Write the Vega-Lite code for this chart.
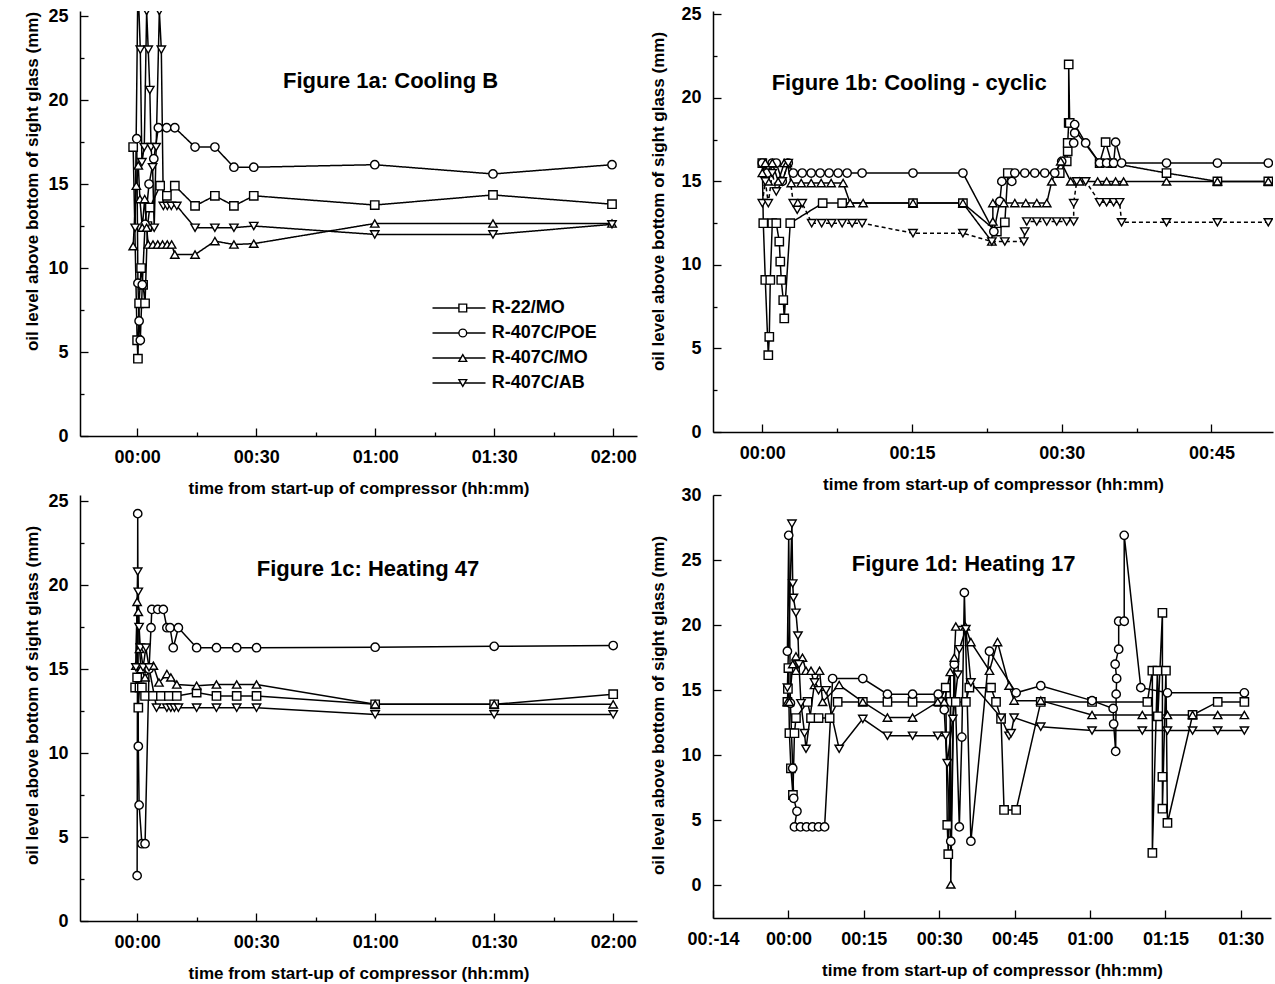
{
"$schema": "https://vega.github.io/schema/vega-lite/v6.json",
"background": "white",
"padding": {"left": 23, "top": 5, "right": 2, "bottom": 2},
"bounds": "flush",
"columns": 2,
"spacing": {"row": 59, "column": 76},
"config": {
  "font": "Liberation Sans",
  "view": {"stroke": null},
  "axis": {"labelFont": "Liberation Sans", "labelFontSize": 18, "labelFontWeight": "bold", "labelColor": "black",
           "titleFont": "Liberation Sans", "titleFontSize": 17, "titleFontWeight": "bold", "titleColor": "black",
           "domainColor": "black", "domainWidth": 1.5, "tickColor": "black", "tickWidth": 1.3, "grid": false}
},
"datasets": {"d": [
{"p":"a","s":"R-22/MO","t":-1.0,"v":17.2},{"p":"a","s":"R-22/MO","t":0.0,"v":5.7},{"p":"a","s":"R-22/MO","t":0.2,"v":4.6},{"p":"a","s":"R-22/MO","t":0.5,"v":7.9},{"p":"a","s":"R-22/MO","t":1.0,"v":10.0},{"p":"a","s":"R-22/MO","t":1.5,"v":9.0},{"p":"a","s":"R-22/MO","t":2.0,"v":7.9},{"p":"a","s":"R-22/MO","t":2.6,"v":12.5},{"p":"a","s":"R-22/MO","t":3.2,"v":13.6},{"p":"a","s":"R-22/MO","t":5.8,"v":14.9},{"p":"a","s":"R-22/MO","t":7.5,"v":14.3},{"p":"a","s":"R-22/MO","t":9.5,"v":14.9},{"p":"a","s":"R-22/MO","t":14.6,"v":13.7},{"p":"a","s":"R-22/MO","t":19.6,"v":14.3},{"p":"a","s":"R-22/MO","t":24.4,"v":13.7},{"p":"a","s":"R-22/MO","t":29.4,"v":14.3},{"p":"a","s":"R-22/MO","t":59.9,"v":13.75},{"p":"a","s":"R-22/MO","t":89.7,"v":14.35},{"p":"a","s":"R-22/MO","t":119.7,"v":13.8},
{"p":"a","s":"R-407C/POE","t":-0.1,"v":17.7},{"p":"a","s":"R-407C/POE","t":0.2,"v":9.1},{"p":"a","s":"R-407C/POE","t":0.5,"v":6.85},{"p":"a","s":"R-407C/POE","t":0.8,"v":5.7},{"p":"a","s":"R-407C/POE","t":1.3,"v":9.0},{"p":"a","s":"R-407C/POE","t":2.0,"v":12.6},{"p":"a","s":"R-407C/POE","t":3.0,"v":15.0},{"p":"a","s":"R-407C/POE","t":4.2,"v":16.5},{"p":"a","s":"R-407C/POE","t":5.35,"v":18.35},{"p":"a","s":"R-407C/POE","t":7.45,"v":18.35},{"p":"a","s":"R-407C/POE","t":9.5,"v":18.35},{"p":"a","s":"R-407C/POE","t":14.6,"v":17.2},{"p":"a","s":"R-407C/POE","t":19.6,"v":17.2},{"p":"a","s":"R-407C/POE","t":24.4,"v":16.0},{"p":"a","s":"R-407C/POE","t":29.4,"v":16.0},{"p":"a","s":"R-407C/POE","t":59.9,"v":16.15},{"p":"a","s":"R-407C/POE","t":89.7,"v":15.6},{"p":"a","s":"R-407C/POE","t":119.7,"v":16.15},
{"p":"a","s":"R-407C/MO","t":-1.0,"v":11.3},{"p":"a","s":"R-407C/MO","t":-0.2,"v":14.9},{"p":"a","s":"R-407C/MO","t":0.3,"v":16.1},{"p":"a","s":"R-407C/MO","t":0.7,"v":14.1},{"p":"a","s":"R-407C/MO","t":1.3,"v":12.4},{"p":"a","s":"R-407C/MO","t":1.9,"v":14.1},{"p":"a","s":"R-407C/MO","t":2.4,"v":12.4},{"p":"a","s":"R-407C/MO","t":2.8,"v":11.4},{"p":"a","s":"R-407C/MO","t":4.0,"v":11.4},{"p":"a","s":"R-407C/MO","t":5.2,"v":11.4},{"p":"a","s":"R-407C/MO","t":6.4,"v":11.4},{"p":"a","s":"R-407C/MO","t":7.6,"v":11.4},{"p":"a","s":"R-407C/MO","t":8.7,"v":11.4},{"p":"a","s":"R-407C/MO","t":9.5,"v":10.8},{"p":"a","s":"R-407C/MO","t":14.6,"v":10.8},{"p":"a","s":"R-407C/MO","t":19.6,"v":11.6},{"p":"a","s":"R-407C/MO","t":24.4,"v":11.4},{"p":"a","s":"R-407C/MO","t":29.4,"v":11.45},{"p":"a","s":"R-407C/MO","t":59.9,"v":12.65},{"p":"a","s":"R-407C/MO","t":89.7,"v":12.65},{"p":"a","s":"R-407C/MO","t":119.7,"v":12.65},
{"p":"a","s":"R-407C/AB","t":-0.5,"v":12.4},{"p":"a","s":"R-407C/AB","t":0.2,"v":27.0},{"p":"a","s":"R-407C/AB","t":0.8,"v":23.0},{"p":"a","s":"R-407C/AB","t":1.2,"v":16.3},{"p":"a","s":"R-407C/AB","t":1.8,"v":17.2},{"p":"a","s":"R-407C/AB","t":2.4,"v":25.3},{"p":"a","s":"R-407C/AB","t":2.8,"v":23.0},{"p":"a","s":"R-407C/AB","t":3.2,"v":20.6},{"p":"a","s":"R-407C/AB","t":3.5,"v":17.2},{"p":"a","s":"R-407C/AB","t":3.9,"v":16.0},{"p":"a","s":"R-407C/AB","t":4.3,"v":12.4},{"p":"a","s":"R-407C/AB","t":4.8,"v":17.2},{"p":"a","s":"R-407C/AB","t":5.6,"v":25.3},{"p":"a","s":"R-407C/AB","t":6.1,"v":23.0},{"p":"a","s":"R-407C/AB","t":6.6,"v":13.7},{"p":"a","s":"R-407C/AB","t":7.6,"v":13.7},{"p":"a","s":"R-407C/AB","t":8.6,"v":13.7},{"p":"a","s":"R-407C/AB","t":10.0,"v":13.7},{"p":"a","s":"R-407C/AB","t":14.6,"v":12.4},{"p":"a","s":"R-407C/AB","t":19.6,"v":12.4},{"p":"a","s":"R-407C/AB","t":24.4,"v":12.4},{"p":"a","s":"R-407C/AB","t":29.4,"v":12.5},{"p":"a","s":"R-407C/AB","t":59.9,"v":12.0},{"p":"a","s":"R-407C/AB","t":89.7,"v":12.0},{"p":"a","s":"R-407C/AB","t":119.7,"v":12.6},

{"p":"b","s":"R-22/MO","t":0,"v":16.1},{"p":"b","s":"R-22/MO","t":0.1,"v":12.5},{"p":"b","s":"R-22/MO","t":0.3,"v":9.1},{"p":"b","s":"R-22/MO","t":0.6,"v":4.6},{"p":"b","s":"R-22/MO","t":0.7,"v":5.7},{"p":"b","s":"R-22/MO","t":0.8,"v":9.1},{"p":"b","s":"R-22/MO","t":1.0,"v":12.5},{"p":"b","s":"R-22/MO","t":1.4,"v":12.5},{"p":"b","s":"R-22/MO","t":1.7,"v":11.4},{"p":"b","s":"R-22/MO","t":1.8,"v":10.2},{"p":"b","s":"R-22/MO","t":1.9,"v":9.1},{"p":"b","s":"R-22/MO","t":2.1,"v":7.9},{"p":"b","s":"R-22/MO","t":2.2,"v":6.8},{"p":"b","s":"R-22/MO","t":2.8,"v":12.5},{"p":"b","s":"R-22/MO","t":6.05,"v":13.7},{"p":"b","s":"R-22/MO","t":8.0,"v":13.7},{"p":"b","s":"R-22/MO","t":15.1,"v":13.7},{"p":"b","s":"R-22/MO","t":20.1,"v":13.7},{"p":"b","s":"R-22/MO","t":23.5,"v":12.0},{"p":"b","s":"R-22/MO","t":24.3,"v":12.55},{"p":"b","s":"R-22/MO","t":24.6,"v":15.5},{"p":"b","s":"R-22/MO","t":29.8,"v":15.5},{"p":"b","s":"R-22/MO","t":30.5,"v":16.2},{"p":"b","s":"R-22/MO","t":30.6,"v":16.8},{"p":"b","s":"R-22/MO","t":30.6,"v":17.3},{"p":"b","s":"R-22/MO","t":30.7,"v":18.5},{"p":"b","s":"R-22/MO","t":30.7,"v":22.0},{"p":"b","s":"R-22/MO","t":30.8,"v":18.5},{"p":"b","s":"R-22/MO","t":33.8,"v":16.1},{"p":"b","s":"R-22/MO","t":34.4,"v":17.35},{"p":"b","s":"R-22/MO","t":35.0,"v":16.1},{"p":"b","s":"R-22/MO","t":40.5,"v":15.5},{"p":"b","s":"R-22/MO","t":45.6,"v":15.0},{"p":"b","s":"R-22/MO","t":50.7,"v":15.0},
{"p":"b","s":"R-407C/POE","t":0,"v":16.1},{"p":"b","s":"R-407C/POE","t":0.5,"v":15.5},{"p":"b","s":"R-407C/POE","t":1.0,"v":16.1},{"p":"b","s":"R-407C/POE","t":1.4,"v":16.1},{"p":"b","s":"R-407C/POE","t":2.0,"v":15.0},{"p":"b","s":"R-407C/POE","t":2.6,"v":16.1},{"p":"b","s":"R-407C/POE","t":3.1,"v":15.5},{"p":"b","s":"R-407C/POE","t":4.0,"v":15.5},{"p":"b","s":"R-407C/POE","t":4.9,"v":15.5},{"p":"b","s":"R-407C/POE","t":5.8,"v":15.5},{"p":"b","s":"R-407C/POE","t":6.7,"v":15.5},{"p":"b","s":"R-407C/POE","t":7.6,"v":15.5},{"p":"b","s":"R-407C/POE","t":8.5,"v":15.5},{"p":"b","s":"R-407C/POE","t":10.0,"v":15.5},{"p":"b","s":"R-407C/POE","t":15.1,"v":15.5},{"p":"b","s":"R-407C/POE","t":20.1,"v":15.5},{"p":"b","s":"R-407C/POE","t":23.2,"v":12.0},{"p":"b","s":"R-407C/POE","t":23.8,"v":13.8},{"p":"b","s":"R-407C/POE","t":24.0,"v":15.0},{"p":"b","s":"R-407C/POE","t":25.0,"v":15.0},{"p":"b","s":"R-407C/POE","t":25.3,"v":15.5},{"p":"b","s":"R-407C/POE","t":26.3,"v":15.5},{"p":"b","s":"R-407C/POE","t":27.3,"v":15.5},{"p":"b","s":"R-407C/POE","t":28.3,"v":15.5},{"p":"b","s":"R-407C/POE","t":29.3,"v":15.5},{"p":"b","s":"R-407C/POE","t":30.0,"v":16.2},{"p":"b","s":"R-407C/POE","t":31.2,"v":17.3},{"p":"b","s":"R-407C/POE","t":31.3,"v":17.9},{"p":"b","s":"R-407C/POE","t":31.3,"v":18.4},{"p":"b","s":"R-407C/POE","t":32.4,"v":17.3},{"p":"b","s":"R-407C/POE","t":33.8,"v":16.1},{"p":"b","s":"R-407C/POE","t":34.5,"v":16.1},{"p":"b","s":"R-407C/POE","t":35.2,"v":16.1},{"p":"b","s":"R-407C/POE","t":35.4,"v":17.35},{"p":"b","s":"R-407C/POE","t":36.0,"v":16.1},{"p":"b","s":"R-407C/POE","t":40.5,"v":16.1},{"p":"b","s":"R-407C/POE","t":45.6,"v":16.1},{"p":"b","s":"R-407C/POE","t":50.7,"v":16.1},
{"p":"b","s":"R-407C/MO","t":0,"v":15.5},{"p":"b","s":"R-407C/MO","t":0.3,"v":16.1},{"p":"b","s":"R-407C/MO","t":0.6,"v":15.0},{"p":"b","s":"R-407C/MO","t":1.0,"v":16.1},{"p":"b","s":"R-407C/MO","t":1.6,"v":15.0},{"p":"b","s":"R-407C/MO","t":2.2,"v":16.1},{"p":"b","s":"R-407C/MO","t":2.5,"v":16.1},{"p":"b","s":"R-407C/MO","t":2.9,"v":14.9},{"p":"b","s":"R-407C/MO","t":3.9,"v":14.9},{"p":"b","s":"R-407C/MO","t":4.9,"v":14.9},{"p":"b","s":"R-407C/MO","t":5.9,"v":14.9},{"p":"b","s":"R-407C/MO","t":6.9,"v":14.9},{"p":"b","s":"R-407C/MO","t":8.1,"v":14.9},{"p":"b","s":"R-407C/MO","t":8.8,"v":13.7},{"p":"b","s":"R-407C/MO","t":10.1,"v":13.7},{"p":"b","s":"R-407C/MO","t":15.1,"v":13.7},{"p":"b","s":"R-407C/MO","t":20.1,"v":13.7},{"p":"b","s":"R-407C/MO","t":23.0,"v":11.4},{"p":"b","s":"R-407C/MO","t":23.1,"v":12.6},{"p":"b","s":"R-407C/MO","t":23.1,"v":13.7},{"p":"b","s":"R-407C/MO","t":24.2,"v":13.7},{"p":"b","s":"R-407C/MO","t":25.3,"v":13.7},{"p":"b","s":"R-407C/MO","t":26.4,"v":13.7},{"p":"b","s":"R-407C/MO","t":27.5,"v":13.7},{"p":"b","s":"R-407C/MO","t":28.5,"v":13.7},{"p":"b","s":"R-407C/MO","t":29.0,"v":15.0},{"p":"b","s":"R-407C/MO","t":29.9,"v":16.2},{"p":"b","s":"R-407C/MO","t":30.9,"v":15.0},{"p":"b","s":"R-407C/MO","t":31.8,"v":15.0},{"p":"b","s":"R-407C/MO","t":33.6,"v":15.0},{"p":"b","s":"R-407C/MO","t":34.5,"v":15.0},{"p":"b","s":"R-407C/MO","t":35.4,"v":15.0},{"p":"b","s":"R-407C/MO","t":36.2,"v":15.0},{"p":"b","s":"R-407C/MO","t":40.5,"v":15.0},{"p":"b","s":"R-407C/MO","t":45.6,"v":15.0},{"p":"b","s":"R-407C/MO","t":50.7,"v":15.0},
{"p":"b","s":"R-407C/AB","t":0,"v":13.7},{"p":"b","s":"R-407C/AB","t":0.3,"v":15.0},{"p":"b","s":"R-407C/AB","t":0.6,"v":13.7},{"p":"b","s":"R-407C/AB","t":1.0,"v":15.5},{"p":"b","s":"R-407C/AB","t":1.4,"v":14.4},{"p":"b","s":"R-407C/AB","t":2.0,"v":15.0},{"p":"b","s":"R-407C/AB","t":2.6,"v":16.1},{"p":"b","s":"R-407C/AB","t":3.1,"v":13.7},{"p":"b","s":"R-407C/AB","t":3.5,"v":13.3},{"p":"b","s":"R-407C/AB","t":4.0,"v":13.7},{"p":"b","s":"R-407C/AB","t":4.95,"v":12.5},{"p":"b","s":"R-407C/AB","t":5.95,"v":12.5},{"p":"b","s":"R-407C/AB","t":6.95,"v":12.5},{"p":"b","s":"R-407C/AB","t":8.0,"v":12.5},{"p":"b","s":"R-407C/AB","t":9.0,"v":12.5},{"p":"b","s":"R-407C/AB","t":10.0,"v":12.5},{"p":"b","s":"R-407C/AB","t":15.1,"v":11.9},{"p":"b","s":"R-407C/AB","t":20.1,"v":11.9},{"p":"b","s":"R-407C/AB","t":23.0,"v":11.4},{"p":"b","s":"R-407C/AB","t":24.3,"v":11.4},{"p":"b","s":"R-407C/AB","t":26.2,"v":11.4},{"p":"b","s":"R-407C/AB","t":26.3,"v":12.0},{"p":"b","s":"R-407C/AB","t":26.5,"v":12.6},{"p":"b","s":"R-407C/AB","t":27.5,"v":12.6},{"p":"b","s":"R-407C/AB","t":28.5,"v":12.6},{"p":"b","s":"R-407C/AB","t":29.5,"v":12.6},{"p":"b","s":"R-407C/AB","t":30.5,"v":12.6},{"p":"b","s":"R-407C/AB","t":31.2,"v":12.6},{"p":"b","s":"R-407C/AB","t":31.2,"v":13.7},{"p":"b","s":"R-407C/AB","t":31.5,"v":15.0},{"p":"b","s":"R-407C/AB","t":32.4,"v":15.0},{"p":"b","s":"R-407C/AB","t":33.8,"v":13.75},{"p":"b","s":"R-407C/AB","t":34.5,"v":13.75},{"p":"b","s":"R-407C/AB","t":35.2,"v":13.75},{"p":"b","s":"R-407C/AB","t":35.8,"v":13.75},{"p":"b","s":"R-407C/AB","t":36.0,"v":12.55},{"p":"b","s":"R-407C/AB","t":40.5,"v":12.55},{"p":"b","s":"R-407C/AB","t":45.6,"v":12.55},{"p":"b","s":"R-407C/AB","t":50.7,"v":12.55},

{"p":"c","s":"R-22/MO","t":-0.5,"v":13.9},{"p":"c","s":"R-22/MO","t":0,"v":14.5},{"p":"c","s":"R-22/MO","t":0.3,"v":12.7},{"p":"c","s":"R-22/MO","t":0.6,"v":13.9},{"p":"c","s":"R-22/MO","t":1.2,"v":13.9},{"p":"c","s":"R-22/MO","t":2,"v":13.4},{"p":"c","s":"R-22/MO","t":4,"v":13.4},{"p":"c","s":"R-22/MO","t":6,"v":13.4},{"p":"c","s":"R-22/MO","t":8,"v":13.4},{"p":"c","s":"R-22/MO","t":10,"v":13.4},{"p":"c","s":"R-22/MO","t":15,"v":13.6},{"p":"c","s":"R-22/MO","t":20,"v":13.4},{"p":"c","s":"R-22/MO","t":25.1,"v":13.4},{"p":"c","s":"R-22/MO","t":30.1,"v":13.4},{"p":"c","s":"R-22/MO","t":60,"v":12.9},{"p":"c","s":"R-22/MO","t":90,"v":12.9},{"p":"c","s":"R-22/MO","t":120,"v":13.5},
{"p":"c","s":"R-407C/POE","t":0,"v":2.7},{"p":"c","s":"R-407C/POE","t":0.15,"v":24.25},{"p":"c","s":"R-407C/POE","t":0.3,"v":10.4},{"p":"c","s":"R-407C/POE","t":0.5,"v":6.9},{"p":"c","s":"R-407C/POE","t":1.2,"v":4.6},{"p":"c","s":"R-407C/POE","t":2.0,"v":4.6},{"p":"c","s":"R-407C/POE","t":3.0,"v":15.0},{"p":"c","s":"R-407C/POE","t":3.5,"v":17.46},{"p":"c","s":"R-407C/POE","t":3.7,"v":18.55},{"p":"c","s":"R-407C/POE","t":5.2,"v":18.55},{"p":"c","s":"R-407C/POE","t":6.6,"v":18.55},{"p":"c","s":"R-407C/POE","t":7.5,"v":17.46},{"p":"c","s":"R-407C/POE","t":8.3,"v":17.46},{"p":"c","s":"R-407C/POE","t":9.1,"v":16.27},{"p":"c","s":"R-407C/POE","t":10.4,"v":17.46},{"p":"c","s":"R-407C/POE","t":15,"v":16.27},{"p":"c","s":"R-407C/POE","t":20,"v":16.27},{"p":"c","s":"R-407C/POE","t":25.1,"v":16.27},{"p":"c","s":"R-407C/POE","t":30.1,"v":16.27},{"p":"c","s":"R-407C/POE","t":60,"v":16.3},{"p":"c","s":"R-407C/POE","t":90,"v":16.35},{"p":"c","s":"R-407C/POE","t":120,"v":16.4},
{"p":"c","s":"R-407C/MO","t":-0.3,"v":15.2},{"p":"c","s":"R-407C/MO","t":0,"v":19.0},{"p":"c","s":"R-407C/MO","t":0.3,"v":18.4},{"p":"c","s":"R-407C/MO","t":0.6,"v":16.2},{"p":"c","s":"R-407C/MO","t":1.0,"v":15.0},{"p":"c","s":"R-407C/MO","t":2,"v":14.5},{"p":"c","s":"R-407C/MO","t":4.1,"v":15.2},{"p":"c","s":"R-407C/MO","t":5.5,"v":14.2},{"p":"c","s":"R-407C/MO","t":7.5,"v":14.7},{"p":"c","s":"R-407C/MO","t":8.5,"v":14.5},{"p":"c","s":"R-407C/MO","t":10,"v":14.08},{"p":"c","s":"R-407C/MO","t":15,"v":14.0},{"p":"c","s":"R-407C/MO","t":20,"v":14.08},{"p":"c","s":"R-407C/MO","t":25.1,"v":14.08},{"p":"c","s":"R-407C/MO","t":30.1,"v":14.08},{"p":"c","s":"R-407C/MO","t":60,"v":12.9},{"p":"c","s":"R-407C/MO","t":90,"v":12.9},{"p":"c","s":"R-407C/MO","t":120,"v":12.9},
{"p":"c","s":"R-407C/AB","t":-0.3,"v":15.1},{"p":"c","s":"R-407C/AB","t":0.15,"v":20.8},{"p":"c","s":"R-407C/AB","t":0.3,"v":19.6},{"p":"c","s":"R-407C/AB","t":0.5,"v":17.5},{"p":"c","s":"R-407C/AB","t":0.8,"v":16.27},{"p":"c","s":"R-407C/AB","t":1.5,"v":15.1},{"p":"c","s":"R-407C/AB","t":2.2,"v":16.27},{"p":"c","s":"R-407C/AB","t":3.0,"v":15.1},{"p":"c","s":"R-407C/AB","t":4.9,"v":12.7},{"p":"c","s":"R-407C/AB","t":7.5,"v":12.7},{"p":"c","s":"R-407C/AB","t":8.5,"v":12.7},{"p":"c","s":"R-407C/AB","t":9.4,"v":12.7},{"p":"c","s":"R-407C/AB","t":10.4,"v":12.7},{"p":"c","s":"R-407C/AB","t":15,"v":12.7},{"p":"c","s":"R-407C/AB","t":20,"v":12.7},{"p":"c","s":"R-407C/AB","t":25.1,"v":12.7},{"p":"c","s":"R-407C/AB","t":30.1,"v":12.7},{"p":"c","s":"R-407C/AB","t":60,"v":12.3},{"p":"c","s":"R-407C/AB","t":90,"v":12.3},{"p":"c","s":"R-407C/AB","t":120,"v":12.3},

{"p":"d","s":"R-22/MO","t":-0.2,"v":14.1},{"p":"d","s":"R-22/MO","t":-0.1,"v":15.1},{"p":"d","s":"R-22/MO","t":0,"v":16.7},{"p":"d","s":"R-22/MO","t":0.2,"v":11.7},{"p":"d","s":"R-22/MO","t":0.5,"v":9.0},{"p":"d","s":"R-22/MO","t":0.9,"v":6.95},{"p":"d","s":"R-22/MO","t":1.2,"v":11.7},{"p":"d","s":"R-22/MO","t":1.5,"v":12.86},{"p":"d","s":"R-22/MO","t":3.8,"v":14.1},{"p":"d","s":"R-22/MO","t":4.5,"v":12.86},{"p":"d","s":"R-22/MO","t":6.0,"v":12.86},{"p":"d","s":"R-22/MO","t":8.2,"v":12.86},{"p":"d","s":"R-22/MO","t":9.8,"v":14.1},{"p":"d","s":"R-22/MO","t":14.8,"v":14.1},{"p":"d","s":"R-22/MO","t":19.7,"v":14.1},{"p":"d","s":"R-22/MO","t":24.7,"v":14.1},{"p":"d","s":"R-22/MO","t":30.0,"v":14.1},{"p":"d","s":"R-22/MO","t":31.3,"v":15.2},{"p":"d","s":"R-22/MO","t":31.6,"v":4.65},{"p":"d","s":"R-22/MO","t":31.8,"v":2.4},{"p":"d","s":"R-22/MO","t":32.3,"v":14.1},{"p":"d","s":"R-22/MO","t":33.3,"v":14.1},{"p":"d","s":"R-22/MO","t":35.3,"v":14.1},{"p":"d","s":"R-22/MO","t":36.0,"v":15.2},{"p":"d","s":"R-22/MO","t":40.3,"v":15.2},{"p":"d","s":"R-22/MO","t":41.3,"v":14.1},{"p":"d","s":"R-22/MO","t":42.3,"v":12.8},{"p":"d","s":"R-22/MO","t":42.9,"v":5.8},{"p":"d","s":"R-22/MO","t":45.3,"v":5.8},{"p":"d","s":"R-22/MO","t":50.2,"v":14.1},{"p":"d","s":"R-22/MO","t":60.4,"v":14.1},{"p":"d","s":"R-22/MO","t":71.4,"v":14.1},{"p":"d","s":"R-22/MO","t":72.4,"v":16.5},{"p":"d","s":"R-22/MO","t":72.4,"v":2.5},{"p":"d","s":"R-22/MO","t":73.4,"v":16.5},{"p":"d","s":"R-22/MO","t":73.5,"v":13.0},{"p":"d","s":"R-22/MO","t":74.4,"v":20.95},{"p":"d","s":"R-22/MO","t":74.4,"v":8.35},{"p":"d","s":"R-22/MO","t":74.4,"v":5.9},{"p":"d","s":"R-22/MO","t":75.1,"v":16.5},{"p":"d","s":"R-22/MO","t":75.4,"v":4.8},{"p":"d","s":"R-22/MO","t":80.4,"v":13.1},{"p":"d","s":"R-22/MO","t":85.4,"v":14.1},{"p":"d","s":"R-22/MO","t":90.7,"v":14.1},
{"p":"d","s":"R-407C/POE","t":-0.2,"v":18.0},{"p":"d","s":"R-407C/POE","t":0.06,"v":26.9},{"p":"d","s":"R-407C/POE","t":0.4,"v":14.0},{"p":"d","s":"R-407C/POE","t":0.86,"v":9.0},{"p":"d","s":"R-407C/POE","t":1.05,"v":6.7},{"p":"d","s":"R-407C/POE","t":1.7,"v":5.7},{"p":"d","s":"R-407C/POE","t":1.2,"v":4.5},{"p":"d","s":"R-407C/POE","t":2.4,"v":4.5},{"p":"d","s":"R-407C/POE","t":3.6,"v":4.5},{"p":"d","s":"R-407C/POE","t":4.8,"v":4.5},{"p":"d","s":"R-407C/POE","t":6.0,"v":4.5},{"p":"d","s":"R-407C/POE","t":7.2,"v":4.5},{"p":"d","s":"R-407C/POE","t":8.8,"v":15.9},{"p":"d","s":"R-407C/POE","t":14.8,"v":15.9},{"p":"d","s":"R-407C/POE","t":19.7,"v":14.7},{"p":"d","s":"R-407C/POE","t":24.7,"v":14.7},{"p":"d","s":"R-407C/POE","t":29.8,"v":14.7},{"p":"d","s":"R-407C/POE","t":31.0,"v":13.5},{"p":"d","s":"R-407C/POE","t":32.3,"v":3.4},{"p":"d","s":"R-407C/POE","t":33.0,"v":17.0},{"p":"d","s":"R-407C/POE","t":34.0,"v":4.5},{"p":"d","s":"R-407C/POE","t":34.5,"v":11.4},{"p":"d","s":"R-407C/POE","t":35.0,"v":22.5},{"p":"d","s":"R-407C/POE","t":36.3,"v":3.4},{"p":"d","s":"R-407C/POE","t":40.0,"v":18.0},{"p":"d","s":"R-407C/POE","t":45.3,"v":14.8},{"p":"d","s":"R-407C/POE","t":50.2,"v":15.35},{"p":"d","s":"R-407C/POE","t":60.4,"v":14.2},{"p":"d","s":"R-407C/POE","t":64.6,"v":13.6},{"p":"d","s":"R-407C/POE","t":64.7,"v":12.4},{"p":"d","s":"R-407C/POE","t":65.1,"v":10.3},{"p":"d","s":"R-407C/POE","t":65.2,"v":14.7},{"p":"d","s":"R-407C/POE","t":65.3,"v":15.9},{"p":"d","s":"R-407C/POE","t":65.0,"v":17.0},{"p":"d","s":"R-407C/POE","t":65.7,"v":18.15},{"p":"d","s":"R-407C/POE","t":65.7,"v":20.3},{"p":"d","s":"R-407C/POE","t":66.8,"v":20.3},{"p":"d","s":"R-407C/POE","t":66.8,"v":26.9},{"p":"d","s":"R-407C/POE","t":70.1,"v":15.2},{"p":"d","s":"R-407C/POE","t":75.4,"v":14.8},{"p":"d","s":"R-407C/POE","t":90.7,"v":14.8},
{"p":"d","s":"R-407C/MO","t":-0.2,"v":14.1},{"p":"d","s":"R-407C/MO","t":0.2,"v":14.1},{"p":"d","s":"R-407C/MO","t":0.86,"v":17.0},{"p":"d","s":"R-407C/MO","t":1.5,"v":17.6},{"p":"d","s":"R-407C/MO","t":1.5,"v":16.5},{"p":"d","s":"R-407C/MO","t":2.8,"v":17.5},{"p":"d","s":"R-407C/MO","t":3.5,"v":16.5},{"p":"d","s":"R-407C/MO","t":4.5,"v":16.5},{"p":"d","s":"R-407C/MO","t":5.2,"v":15.4},{"p":"d","s":"R-407C/MO","t":6.2,"v":16.5},{"p":"d","s":"R-407C/MO","t":6.8,"v":14.1},{"p":"d","s":"R-407C/MO","t":10.1,"v":15.4},{"p":"d","s":"R-407C/MO","t":14.8,"v":14.1},{"p":"d","s":"R-407C/MO","t":19.7,"v":12.9},{"p":"d","s":"R-407C/MO","t":24.7,"v":12.9},{"p":"d","s":"R-407C/MO","t":29.7,"v":14.1},{"p":"d","s":"R-407C/MO","t":31.0,"v":14.1},{"p":"d","s":"R-407C/MO","t":32.2,"v":16.4},{"p":"d","s":"R-407C/MO","t":32.3,"v":0.08},{"p":"d","s":"R-407C/MO","t":33.0,"v":17.5},{"p":"d","s":"R-407C/MO","t":33.3,"v":19.9},{"p":"d","s":"R-407C/MO","t":35.2,"v":19.9},{"p":"d","s":"R-407C/MO","t":36.3,"v":18.7},{"p":"d","s":"R-407C/MO","t":40.0,"v":16.5},{"p":"d","s":"R-407C/MO","t":41.6,"v":18.7},{"p":"d","s":"R-407C/MO","t":43.9,"v":15.35},{"p":"d","s":"R-407C/MO","t":44.9,"v":14.2},{"p":"d","s":"R-407C/MO","t":50.2,"v":14.2},{"p":"d","s":"R-407C/MO","t":60.4,"v":13.1},{"p":"d","s":"R-407C/MO","t":70.4,"v":13.1},{"p":"d","s":"R-407C/MO","t":75.4,"v":13.1},{"p":"d","s":"R-407C/MO","t":80.4,"v":13.1},{"p":"d","s":"R-407C/MO","t":85.4,"v":13.1},{"p":"d","s":"R-407C/MO","t":90.7,"v":13.1},
{"p":"d","s":"R-407C/AB","t":-0.2,"v":15.2},{"p":"d","s":"R-407C/AB","t":0.7,"v":27.8},{"p":"d","s":"R-407C/AB","t":0.86,"v":23.2},{"p":"d","s":"R-407C/AB","t":1.0,"v":22.1},{"p":"d","s":"R-407C/AB","t":1.5,"v":20.95},{"p":"d","s":"R-407C/AB","t":1.9,"v":19.2},{"p":"d","s":"R-407C/AB","t":2.1,"v":17.0},{"p":"d","s":"R-407C/AB","t":2.5,"v":14.0},{"p":"d","s":"R-407C/AB","t":3.2,"v":11.7},{"p":"d","s":"R-407C/AB","t":3.5,"v":10.5},{"p":"d","s":"R-407C/AB","t":5.2,"v":15.6},{"p":"d","s":"R-407C/AB","t":6.0,"v":15.0},{"p":"d","s":"R-407C/AB","t":7.5,"v":15.0},{"p":"d","s":"R-407C/AB","t":10.1,"v":10.5},{"p":"d","s":"R-407C/AB","t":14.8,"v":12.8},{"p":"d","s":"R-407C/AB","t":19.7,"v":11.5},{"p":"d","s":"R-407C/AB","t":24.7,"v":11.5},{"p":"d","s":"R-407C/AB","t":29.7,"v":11.5},{"p":"d","s":"R-407C/AB","t":31.3,"v":11.5},{"p":"d","s":"R-407C/AB","t":31.6,"v":9.4},{"p":"d","s":"R-407C/AB","t":32.7,"v":12.8},{"p":"d","s":"R-407C/AB","t":33.7,"v":16.2},{"p":"d","s":"R-407C/AB","t":34.0,"v":18.15},{"p":"d","s":"R-407C/AB","t":35.3,"v":19.7},{"p":"d","s":"R-407C/AB","t":36.3,"v":15.6},{"p":"d","s":"R-407C/AB","t":42.3,"v":12.9},{"p":"d","s":"R-407C/AB","t":43.9,"v":11.5},{"p":"d","s":"R-407C/AB","t":44.3,"v":11.7},{"p":"d","s":"R-407C/AB","t":44.9,"v":12.9},{"p":"d","s":"R-407C/AB","t":50.2,"v":12.2},{"p":"d","s":"R-407C/AB","t":60.4,"v":11.9},{"p":"d","s":"R-407C/AB","t":70.4,"v":11.9},{"p":"d","s":"R-407C/AB","t":75.4,"v":11.9},{"p":"d","s":"R-407C/AB","t":80.4,"v":11.9},{"p":"d","s":"R-407C/AB","t":85.4,"v":11.9},{"p":"d","s":"R-407C/AB","t":90.7,"v":11.9}
]},
"concat": [
{
 "width": 557, "height": 425,
 "data": {"name": "d"},
 "layer": [
  {"transform": [{"filter": "datum.p === 'a'"}],
   "mark": {"type": "line", "color": "black", "strokeWidth": 1.5, "clip": true},
   "encoding": {
     "x": {"field": "t", "type": "quantitative", "scale": {"domain": [-14.4, 126], "nice": false, "zero": false},
           "axis": {"values": [0,15,30,45,60,75,90,105,120], "labelFlush": false,
                    "labelExpr": "datum.value % 30 != 0 ? '' : (floor(datum.value/60) < 10 ? '0' : '') + floor(datum.value/60) + ':' + (datum.value % 60 < 10 ? '0' : '') + (datum.value % 60)",
                    "tickSize": {"condition": {"test": "datum.value % 30 == 0", "value": -8}, "value": -4},
                    "labelPadding": 20, "titlePadding": 14, "title": "time from start-up of compressor (hh:mm)"}},
     "y": {"field": "v", "type": "quantitative", "scale": {"domain": [0, 25.3], "nice": false, "zero": false},
           "axis": {"values": [0,2.5,5,7.5,10,12.5,15,17.5,20,22.5,25], "labelExpr": "datum.value % 5 != 0 ? '' : datum.label",
                    "tickSize": {"condition": {"test": "datum.value % 5 == 0", "value": -8}, "value": -4},
                    "labelPadding": 20, "title": "oil level above bottom of sight glass (mm)", "titleX": -48, "titleY": 170, "titleBaseline": "middle"}},
     "detail": {"field": "s"}, "order": {"value": null},
     "strokeDash": {"field": "s", "type": "nominal", "scale": {"domain": ["R-22/MO","R-407C/POE","R-407C/MO","R-407C/AB"], "range": [[1,0],[1,0],[1,0],[1,0]]},
       "legend": {"orient": "none", "legendX": 351.5, "legendY": 284.5, "title": null, "symbolType": "stroke", "symbolSize": 2809,
                  "symbolStrokeColor": "black", "symbolStrokeWidth": 1.4, "labelOpacity": 0, "clipHeight": 25,
                  "labelFont": "Liberation Sans", "labelFontSize": 18, "labelFontWeight": "bold", "labelOffset": 7, "rowPadding": 0, "padding": 0}}}},
  {"transform": [{"filter": "datum.p === 'a'"}],
   "mark": {"type": "point", "filled": false, "fill": "white", "stroke": "black", "strokeWidth": 1.4, "size": 70, "opacity": 1, "clip": true},
   "encoding": {
     "x": {"field": "t", "type": "quantitative", "scale": {"domain": [-14.4, 126], "nice": false, "zero": false}},
     "y": {"field": "v", "type": "quantitative", "scale": {"domain": [0, 25.3], "nice": false, "zero": false}},
     "shape": {"field": "s", "type": "nominal", "scale": {"domain": ["R-22/MO","R-407C/POE","R-407C/MO","R-407C/AB"], "range": ["square","circle","triangle-up","triangle-down"]},
       "legend": {"orient": "none", "legendX": 373.8, "legendY": 284.5, "title": null, "symbolSize": 60, "symbolStrokeWidth": 1.4, "clipHeight": 25,
                  "labelFont": "Liberation Sans", "labelFontSize": 18, "labelFontWeight": "bold", "labelColor": "black",
                  "labelOffset": 20, "rowPadding": 0, "padding": 0}}}},
  {"transform": [{"filter": "datum.p === 'a'"}, {"aggregate": [{"op": "count", "as": "n"}]}],
   "mark": {"type": "text", "text": "Figure 1a: Cooling B", "align": "left", "baseline": "middle", "font": "Liberation Sans", "fontSize": 22, "fontWeight": "bold", "color": "black"},
   "encoding": {"x": {"datum": 36.77, "type": "quantitative"}, "y": {"datum": 21.13, "type": "quantitative"}}}
 ],
 "resolve": {"legend": {"shape": "independent", "strokeDash": "independent"}}
},
{
 "width": 560, "height": 421,
 "data": {"name": "d"},
 "layer": [
  {"transform": [{"filter": "datum.p === 'b'"}],
   "mark": {"type": "line", "color": "black", "strokeWidth": 1.5, "clip": true},
   "encoding": {
     "x": {"field": "t", "type": "quantitative", "scale": {"domain": [-4.94, 51.17], "nice": false, "zero": false},
           "axis": {"values": [0,7.5,15,22.5,30,37.5,45], "labelFlush": false,
                    "labelExpr": "datum.value % 15 != 0 ? '' : '00:' + (datum.value < 10 ? '0' : '') + datum.value",
                    "tickSize": {"condition": {"test": "datum.value % 15 == 0", "value": -8}, "value": -4},
                    "labelPadding": 20, "titlePadding": 14, "title": "time from start-up of compressor (hh:mm)"}},
     "y": {"field": "v", "type": "quantitative", "scale": {"domain": [0, 25.2], "nice": false, "zero": false},
           "axis": {"values": [0,2.5,5,7.5,10,12.5,15,17.5,20,22.5,25], "labelExpr": "datum.value % 5 != 0 ? '' : datum.label",
                    "tickSize": {"condition": {"test": "datum.value % 5 == 0", "value": -8}, "value": -4},
                    "labelPadding": 20, "title": "oil level above bottom of sight glass (mm)", "titleX": -55, "titleY": 190, "titleBaseline": "middle"}},
     "detail": {"field": "s"}, "order": {"value": null},
     "strokeDash": {"field": "s", "type": "nominal", "scale": {"domain": ["R-22/MO","R-407C/POE","R-407C/MO","R-407C/AB"], "range": [[1,0],[1,0],[1,0],[4,3]]}, "legend": null}}},
  {"transform": [{"filter": "datum.p === 'b'"}],
   "mark": {"type": "point", "filled": false, "fill": "white", "stroke": "black", "strokeWidth": 1.4, "size": 70, "opacity": 1, "clip": true},
   "encoding": {
     "x": {"field": "t", "type": "quantitative", "scale": {"domain": [-4.94, 51.17], "nice": false, "zero": false}},
     "y": {"field": "v", "type": "quantitative", "scale": {"domain": [0, 25.2], "nice": false, "zero": false}},
     "shape": {"field": "s", "type": "nominal", "scale": {"domain": ["R-22/MO","R-407C/POE","R-407C/MO","R-407C/AB"], "range": ["square","circle","triangle-up","triangle-down"]}, "legend": null}}},
  {"transform": [{"filter": "datum.p === 'b'"}, {"aggregate": [{"op": "count", "as": "n"}]}],
   "mark": {"type": "text", "text": "Figure 1b: Cooling - cyclic", "align": "left", "baseline": "middle", "font": "Liberation Sans", "fontSize": 22, "fontWeight": "bold", "color": "black"},
   "encoding": {"x": {"datum": 0.94, "type": "quantitative"}, "y": {"datum": 20.89, "type": "quantitative"}}}
 ]
},
{
 "width": 557, "height": 426,
 "data": {"name": "d"},
 "layer": [
  {"transform": [{"filter": "datum.p === 'c'"}],
   "mark": {"type": "line", "color": "black", "strokeWidth": 1.5, "clip": true},
   "encoding": {
     "x": {"field": "t", "type": "quantitative", "scale": {"domain": [-14.4, 126], "nice": false, "zero": false},
           "axis": {"values": [0,15,30,45,60,75,90,105,120], "labelFlush": false,
                    "labelExpr": "datum.value % 30 != 0 ? '' : (floor(datum.value/60) < 10 ? '0' : '') + floor(datum.value/60) + ':' + (datum.value % 60 < 10 ? '0' : '') + (datum.value % 60)",
                    "tickSize": {"condition": {"test": "datum.value % 30 == 0", "value": -8}, "value": -4},
                    "labelPadding": 20, "titlePadding": 14, "title": "time from start-up of compressor (hh:mm)"}},
     "y": {"field": "v", "type": "quantitative", "scale": {"domain": [0, 25.36], "nice": false, "zero": false},
           "axis": {"values": [0,2.5,5,7.5,10,12.5,15,17.5,20,22.5,25], "labelExpr": "datum.value % 5 != 0 ? '' : datum.label",
                    "tickSize": {"condition": {"test": "datum.value % 5 == 0", "value": -8}, "value": -4},
                    "labelPadding": 20, "title": "oil level above bottom of sight glass (mm)", "titleX": -48, "titleY": 200, "titleBaseline": "middle"}},
     "detail": {"field": "s"}, "order": {"value": null}}},
  {"transform": [{"filter": "datum.p === 'c'"}],
   "mark": {"type": "point", "filled": false, "fill": "white", "stroke": "black", "strokeWidth": 1.4, "size": 70, "opacity": 1, "clip": true},
   "encoding": {
     "x": {"field": "t", "type": "quantitative", "scale": {"domain": [-14.4, 126], "nice": false, "zero": false}},
     "y": {"field": "v", "type": "quantitative", "scale": {"domain": [0, 25.36], "nice": false, "zero": false}},
     "shape": {"field": "s", "type": "nominal", "scale": {"domain": ["R-22/MO","R-407C/POE","R-407C/MO","R-407C/AB"], "range": ["square","circle","triangle-up","triangle-down"]}, "legend": null}}},
  {"transform": [{"filter": "datum.p === 'c'"}, {"aggregate": [{"op": "count", "as": "n"}]}],
   "mark": {"type": "text", "text": "Figure 1c: Heating 47", "align": "left", "baseline": "middle", "font": "Liberation Sans", "fontSize": 22, "fontWeight": "bold", "color": "black"},
   "encoding": {"x": {"datum": 30.14, "type": "quantitative"}, "y": {"datum": 20.96, "type": "quantitative"}}}
 ]
},
{
 "width": 558, "height": 423,
 "data": {"name": "d"},
 "layer": [
  {"transform": [{"filter": "datum.p === 'd'"}],
   "mark": {"type": "line", "color": "black", "strokeWidth": 1.5, "clip": true},
   "encoding": {
     "x": {"field": "t", "type": "quantitative", "scale": {"domain": [-15, 96], "nice": false, "zero": false},
           "axis": {"values": [-15,-7.5,0,7.5,15,22.5,30,37.5,45,52.5,60,67.5,75,82.5,90], "labelFlush": false,
                    "labelExpr": "datum.value < 0 ? (datum.value == -15 ? '00:-14' : '') : (datum.value % 15 != 0 ? '' : (floor(datum.value/60) < 10 ? '0' : '') + floor(datum.value/60) + ':' + (datum.value % 60 < 10 ? '0' : '') + (datum.value % 60))",
                    "tickSize": {"condition": {"test": "datum.value % 15 == 0", "value": -8}, "value": -4},
                    "labelPadding": 20, "titlePadding": 14, "title": "time from start-up of compressor (hh:mm)"}},
     "y": {"field": "v", "type": "quantitative", "scale": {"domain": [-2.5, 30], "nice": false, "zero": false},
           "axis": {"values": [0,2.5,5,7.5,10,12.5,15,17.5,20,22.5,25,27.5,30], "labelExpr": "datum.value % 5 != 0 ? '' : datum.label",
                    "tickSize": {"condition": {"test": "datum.value % 5 == 0", "value": -8}, "value": -4},
                    "labelPadding": 20, "title": "oil level above bottom of sight glass (mm)", "titleX": -55, "titleY": 210, "titleBaseline": "middle"}},
     "detail": {"field": "s"}, "order": {"value": null}}},
  {"transform": [{"filter": "datum.p === 'd'"}],
   "mark": {"type": "point", "filled": false, "fill": "white", "stroke": "black", "strokeWidth": 1.4, "size": 70, "opacity": 1, "clip": true},
   "encoding": {
     "x": {"field": "t", "type": "quantitative", "scale": {"domain": [-15, 96], "nice": false, "zero": false}},
     "y": {"field": "v", "type": "quantitative", "scale": {"domain": [-2.5, 30], "nice": false, "zero": false}},
     "shape": {"field": "s", "type": "nominal", "scale": {"domain": ["R-22/MO","R-407C/POE","R-407C/MO","R-407C/AB"], "range": ["square","circle","triangle-up","triangle-down"]}, "legend": null}}},
  {"transform": [{"filter": "datum.p === 'd'"}, {"aggregate": [{"op": "count", "as": "n"}]}],
   "mark": {"type": "text", "text": "Figure 1d: Heating 17", "align": "left", "baseline": "middle", "font": "Liberation Sans", "fontSize": 22, "fontWeight": "bold", "color": "black"},
   "encoding": {"x": {"datum": 12.59, "type": "quantitative"}, "y": {"datum": 24.7, "type": "quantitative"}}}
 ]
}
],
"resolve": {"scale": {"shape": "independent", "strokeDash": "independent"}, "legend": {"shape": "independent", "strokeDash": "independent"}}
}
